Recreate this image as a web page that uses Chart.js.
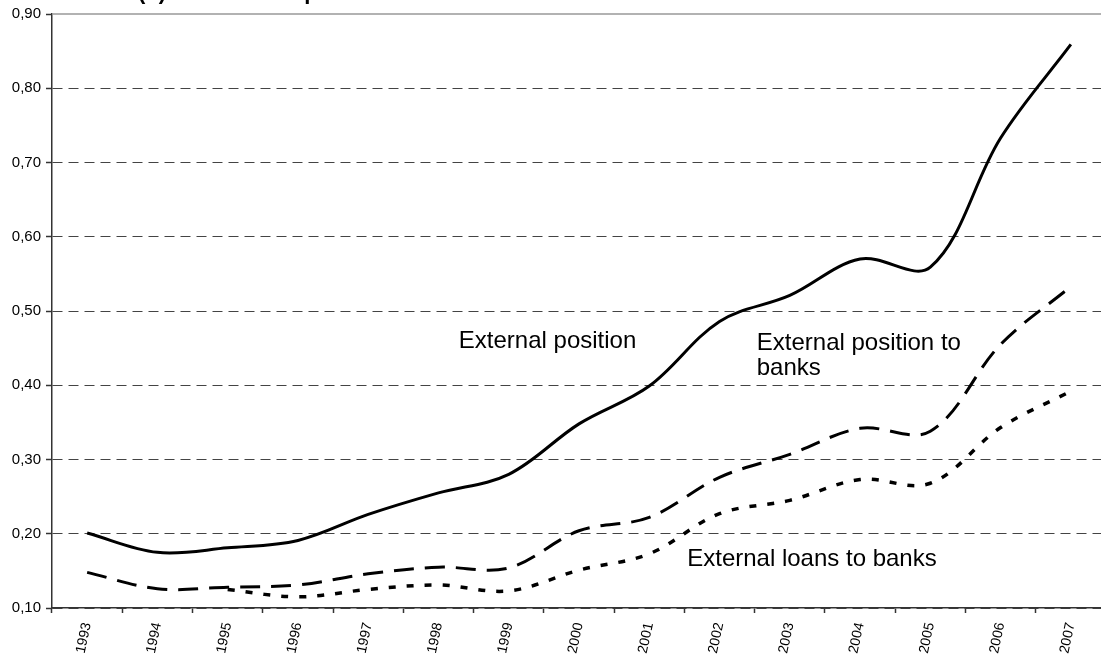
<!DOCTYPE html>
<html>
<head>
<meta charset="utf-8">
<script src="https://cdn.jsdelivr.net/npm/chart.js@4.4.1/dist/chart.umd.min.js"></script>
<style>
  html, body { margin: 0; padding: 0; background: #fff; overflow: hidden; }
  #wrap { width: 1106px; height: 663px; }
</style>
</head>
<body>
<div id="wrap"><canvas id="positionsChart" width="1106" height="663"></canvas></div>
<script>
// data
var years = ['1993', '1994', '1995', '1996', '1997', '1998', '1999', '2000', '2001', '2002', '2003', '2004', '2005', '2006', '2007'];
var externalPosition = [0.201, 0.175, 0.181, 0.191, 0.226, 0.255, 0.280, 0.348, 0.399, 0.486, 0.521, 0.570, 0.559, 0.733, 0.859];
var positionToBanks = [0.148, 0.126, 0.128, 0.131, 0.146, 0.155, 0.154, 0.204, 0.222, 0.276, 0.307, 0.342, 0.338, 0.455, 0.533];
var loansToBanks = [null, null, 0.125, 0.115, 0.125, 0.131, 0.123, 0.151, 0.173, 0.227, 0.245, 0.273, 0.268, 0.343, 0.392];
var yTickLabels = ['0,10', '0,20', '0,30', '0,40', '0,50', '0,60', '0,70', '0,80', '0,90'];

// in-chart labels, anchored in axis units (category index, value)
var seriesLabels = [
    { lines: ['External position'], x: 5.29, y: 0.450 },
    { lines: ['External position to', 'banks'], x: 9.53, y: 0.448 },
    { lines: ['External loans to banks'], x: 8.54, y: 0.157 }
];
var titleText = '(b) Net external position';

var extras = {
    id: 'extras',
    afterDatasetsDraw: function(chart) {
        var ctx = chart.ctx;
        var area = chart.chartArea;
        var xs = chart.scales.x, ys = chart.scales.y;
        ctx.save();
        // solid top frame line
        ctx.strokeStyle = '#999';
        ctx.lineWidth = 1.5;
        ctx.beginPath();
        ctx.moveTo(area.left, area.top);
        ctx.lineTo(area.right, area.top);
        ctx.stroke();

        ctx.fillStyle = '#000';
        ctx.font = '24px "Liberation Sans", Arial, sans-serif';
        ctx.textAlign = 'left';
        ctx.textBaseline = 'alphabetic';
        seriesLabels.forEach(function(lbl) {
            var px = xs.getPixelForValue(lbl.x);
            var py = ys.getPixelForValue(lbl.y);
            lbl.lines.forEach(function(line, i) {
                ctx.fillText(line, px, py + i * 25);
            });
        });

        // title, cut off by the top edge
        ctx.font = 'bold 22px "Liberation Sans", Arial, sans-serif';
        ctx.fillText(titleText, 138, -1);
        ctx.restore();
    }
};

var ctx = document.getElementById('positionsChart').getContext('2d');
var positionsChart = new Chart(ctx, {
    type: 'line',
    data: {
        labels: years,
        datasets: [
            {
                label: 'External position',
                data: externalPosition,
                borderColor: '#000',
                borderWidth: 3,
                tension: 0.35
            },
            {
                label: 'External position to banks',
                data: positionToBanks,
                borderColor: '#000',
                borderWidth: 3,
                borderDash: [20, 11],
                tension: 0.35
            },
            {
                label: 'External loans to banks',
                data: loansToBanks,
                borderColor: '#000',
                borderWidth: 3.5,
                borderDash: [7, 11],
                tension: 0.35
            }
        ]
    },
    options: {
        responsive: false,
        animation: false,
        layout: { padding: { top: 12, left: 0, right: 0, bottom: 0 } },
        elements: { point: { radius: 0, hoverRadius: 0 } },
        plugins: {
            legend: { display: false },
            tooltip: { enabled: false },
            title: { display: false }
        },
        scales: {
            x: {
                offset: true,
                grid: {
                    offset: true,
                    drawOnChartArea: false,
                    drawTicks: true,
                    tickLength: 5,
                    tickColor: '#333',
                    tickWidth: 1.5
                },
                border: { color: '#333', width: 1.5 },
                ticks: {
                    autoSkip: false,
                    minRotation: 78,
                    maxRotation: 78,
                    padding: 8,
                    color: '#000',
                    font: { family: '"Liberation Sans", Arial, sans-serif', size: 14 }
                },
                afterFit: function(scale) { scale.height = 55; }
            },
            y: {
                min: 0.1,
                max: 0.9,
                ticks: {
                    stepSize: 0.1,
                    padding: 5,
                    color: '#000',
                    font: { family: '"Liberation Sans", Arial, sans-serif', size: 15 },
                    callback: function(value, index) { return yTickLabels[index]; }
                },
                grid: {
                    color: function(c) {
                        return (c.tick && c.tick.value > 0.85) ? 'rgba(0,0,0,0)' : '#444';
                    },
                    lineWidth: 1,
                    tickLength: 6,
                    tickColor: '#333',
                    tickWidth: 1.5,
                    tickBorderDash: []
                },
                border: { color: '#333', width: 1.5, dash: [10, 6] },
                afterFit: function(scale) { scale.width = 52; }
            }
        }
    },
    plugins: [extras]
});
</script>
</body>
</html>
